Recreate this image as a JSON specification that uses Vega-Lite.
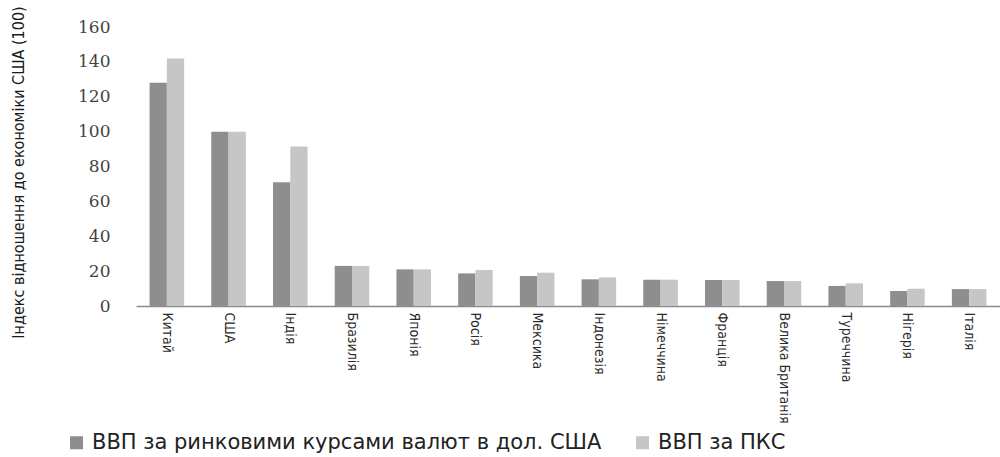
{
  "$schema": "https://vega.github.io/schema/vega-lite/v6.json",
  "width": 864,
  "height": 279,
  "autosize": "none",
  "padding": {"left": 136, "top": 27, "right": 0, "bottom": 151},
  "background": "white",
  "data": {
    "values": [
      {"country": "Китай", "series": "ВВП за ринковими курсами валют в дол. США", "value": 128},
      {"country": "Китай", "series": "ВВП за ПКС", "value": 142},
      {"country": "США", "series": "ВВП за ринковими курсами валют в дол. США", "value": 100},
      {"country": "США", "series": "ВВП за ПКС", "value": 100},
      {"country": "Індія", "series": "ВВП за ринковими курсами валют в дол. США", "value": 71},
      {"country": "Індія", "series": "ВВП за ПКС", "value": 91.5},
      {"country": "Бразилія", "series": "ВВП за ринковими курсами валют в дол. США", "value": 23},
      {"country": "Бразилія", "series": "ВВП за ПКС", "value": 23},
      {"country": "Японія", "series": "ВВП за ринковими курсами валют в дол. США", "value": 21},
      {"country": "Японія", "series": "ВВП за ПКС", "value": 21},
      {"country": "Росія", "series": "ВВП за ринковими курсами валют в дол. США", "value": 18.7},
      {"country": "Росія", "series": "ВВП за ПКС", "value": 20.6},
      {"country": "Мексика", "series": "ВВП за ринковими курсами валют в дол. США", "value": 17.2},
      {"country": "Мексика", "series": "ВВП за ПКС", "value": 19.1},
      {"country": "Індонезія", "series": "ВВП за ринковими курсами валют в дол. США", "value": 15.3},
      {"country": "Індонезія", "series": "ВВП за ПКС", "value": 16.4},
      {"country": "Німеччина", "series": "ВВП за ринковими курсами валют в дол. США", "value": 15.1},
      {"country": "Німеччина", "series": "ВВП за ПКС", "value": 15.1},
      {"country": "Франція", "series": "ВВП за ринковими курсами валют в дол. США", "value": 14.9},
      {"country": "Франція", "series": "ВВП за ПКС", "value": 14.9},
      {"country": "Велика Британія", "series": "ВВП за ринковими курсами валют в дол. США", "value": 14.3},
      {"country": "Велика Британія", "series": "ВВП за ПКС", "value": 14.3},
      {"country": "Туреччина", "series": "ВВП за ринковими курсами валют в дол. США", "value": 11.5},
      {"country": "Туреччина", "series": "ВВП за ПКС", "value": 13},
      {"country": "Нігерія", "series": "ВВП за ринковими курсами валют в дол. США", "value": 8.6},
      {"country": "Нігерія", "series": "ВВП за ПКС", "value": 9.9},
      {"country": "Італія", "series": "ВВП за ринковими курсами валют в дол. США", "value": 9.7},
      {"country": "Італія", "series": "ВВП за ПКС", "value": 9.7}
    ]
  },
  "mark": {"type": "bar"},
  "encoding": {
    "x": {
      "field": "country",
      "type": "nominal",
      "sort": null,
      "scale": {"paddingInner": 0.44, "paddingOuter": 0.22},
      "axis": {
        "title": null,
        "labelAngle": 90,
        "labelAlign": "left",
        "labelBaseline": "middle",
        "labelPadding": 6,
        "labelFont": "DejaVu Sans Condensed",
        "labelFontSize": 14,
        "labelColor": "#2a2a2a",
        "ticks": false,
        "domainColor": "#8a8a8a",
        "domainWidth": 1.5
      }
    },
    "xOffset": {"field": "series", "type": "nominal", "sort": null},
    "y": {
      "field": "value",
      "type": "quantitative",
      "scale": {"domain": [0, 160], "nice": false},
      "axis": {
        "title": "Індекс відношення до економіки США (100)",
        "titleFont": "DejaVu Sans Condensed",
        "titleFontSize": 16,
        "titleFontWeight": "normal",
        "titleColor": "#1a1a1a",
        "titleX": -118,
        "titleY": 145,
        "titleAngle": 270,
        "titleAlign": "center",
        "titleBaseline": "middle",
        "values": [0, 20, 40, 60, 80, 100, 120, 140, 160],
        "labelFont": "DejaVu Serif",
        "labelFontSize": 17,
        "labelColor": "#444444",
        "labelPadding": 26,
        "ticks": false,
        "domain": false,
        "grid": false
      }
    },
    "color": {
      "field": "series",
      "type": "nominal",
      "sort": null,
      "scale": {
        "domain": ["ВВП за ринковими курсами валют в дол. США", "ВВП за ПКС"],
        "range": ["#8e8e8e", "#c6c6c6"]
      },
      "legend": {
        "title": null,
        "orient": "none",
        "direction": "horizontal",
        "legendX": -70,
        "legendY": 405,
        "symbolType": "square",
        "symbolSize": 170,
        "symbolStrokeWidth": 0,
        "labelFont": "DejaVu Sans",
        "labelFontSize": 21,
        "labelColor": "#222222",
        "labelLimit": 0,
        "columnPadding": 30,
        "labelOffset": 5
      }
    }
  },
  "config": {"view": {"stroke": null}}
}
